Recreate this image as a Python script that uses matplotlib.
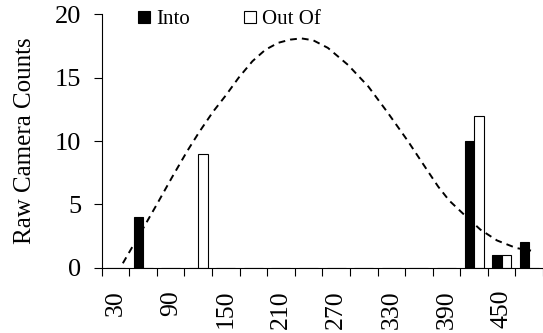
import numpy as np
import matplotlib
matplotlib.use("Agg")
import matplotlib.pyplot as plt

plt.rcParams['font.family'] = ['Liberation Serif', 'DejaVu Serif']

# heading bins (degrees) and raw counts
categories = [30, 60, 90, 120, 150, 180, 210, 240, 270, 300, 330, 360, 390, 420, 450, 480]
into_counts = [0, 4, 0, 0, 0, 0, 0, 0, 0, 0, 0, 0, 0, 10, 1, 2]
out_counts = [0, 0, 0, 9, 0, 0, 0, 0, 0, 0, 0, 0, 0, 12, 1, 0]
tick_labels = ['30', '90', '150', '210', '270', '330', '390', '450']

# fitted trend curve
curve_deg = [38, 60, 75, 92, 108, 121, 136, 150, 164, 179, 193, 207, 220, 232, 245, 261,
             283, 305, 326, 348, 369, 381, 393, 409, 427, 445, 466, 482]
curve_val = [0.35, 3.1, 5.0, 7.2, 9.2, 10.7, 12.3, 13.6, 15.0, 16.3, 17.2, 17.75, 18.0, 18.1,
             17.95, 17.35, 16.0, 14.3, 12.25, 10.0, 7.7, 6.4, 5.3, 4.2, 3.0, 2.15, 1.55, 1.35]

W, H = 543, 333
fig = plt.figure(figsize=(W / 100, H / 100), dpi=100)
left_px, right_px, top_px, bot_px = 101.7, 543, 14.3, 267.7
ax = fig.add_axes([left_px / W, 1 - bot_px / H, (right_px - left_px) / W, (bot_px - top_px) / H])

cat_w = 27.8
idx = np.arange(len(categories))
bw = 0.345
ax.bar(idx - bw / 2, into_counts, bw, color='black', edgecolor='black', linewidth=0.8, label='Into')
ax.bar(idx + bw / 2, out_counts, bw, color='white', edgecolor='black', linewidth=0.8, label='Out Of')

cx = (np.array(curve_deg) - 30) / 30.0
ax.plot(cx, curve_val, color='black', linewidth=1.4, dashes=(3.5, 2.6))

ax.set_xlim(-0.5, (right_px - left_px) / cat_w - 0.5)
ax.set_ylim(0, 20)

ax.spines['top'].set_visible(False)
ax.spines['right'].set_visible(False)
ax.spines['left'].set_linewidth(0.8)
ax.spines['bottom'].set_linewidth(0.8)

ax.set_yticks([0, 5, 10, 15, 20])
ax.tick_params(axis='y', direction='out', length=5.8, width=0.8, pad=9, labelsize=19)

ax.set_xticks(idx[::2])
ax.set_xticklabels(tick_labels, rotation=90, va='top', ha='center')
ax.set_xticks(np.arange(-0.5, len(categories) + 0.5, 1), minor=True)
ax.tick_params(axis='x', which='major', length=0, pad=16, labelsize=18.5)
ax.tick_params(axis='x', which='minor', direction='out', length=5.8, width=0.8)

ax.set_ylabel('Raw Camera Counts', fontsize=18)
ax.yaxis.set_label_coords(-0.15, 0.5)

ax.legend(ncol=2, frameon=False, loc='upper left', bbox_to_anchor=(128 / W, 1.0),
          bbox_transform=fig.transFigure, fontsize=15, handlelength=0.55, handleheight=0.55,
          handletextpad=0.3, columnspacing=2.6, borderaxespad=0.1)

fig.savefig('out.png', dpi=100)
